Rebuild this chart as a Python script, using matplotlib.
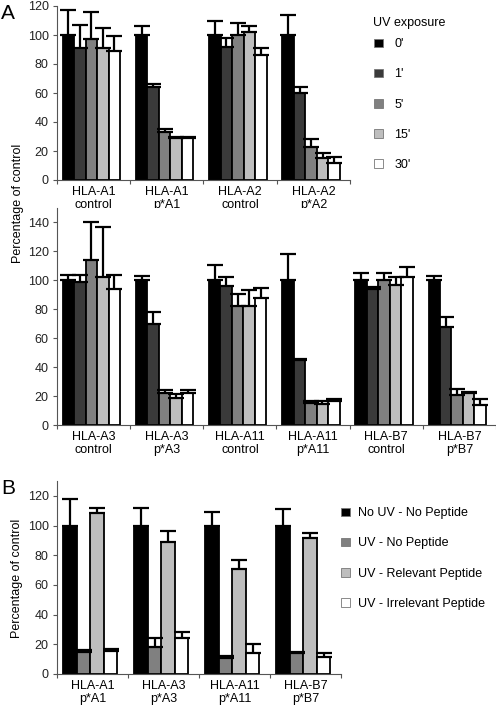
import matplotlib
matplotlib.use("Agg")
import matplotlib.pyplot as plt
import numpy as np
from matplotlib.patches import Patch

plt.rcParams['font.family'] = ['Liberation Sans', 'DejaVu Sans']
plt.rcParams['font.size'] = 9

# Panel A, top row
groups_top = ["HLA-A1\ncontrol", "HLA-A1\np*A1", "HLA-A2\ncontrol", "HLA-A2\np*A2"]
vals_top = [
    [100, 100, 100, 100],   # 0'
    [91, 64, 92, 60],       # 1'
    [97, 33, 100, 23],      # 5'
    [91, 29, 102, 15],      # 15'
    [89, 29, 86, 12],       # 30'
]
errs_top = [
    [17, 6, 10, 14],
    [16, 2, 6, 4],
    [19, 2.5, 8, 5.5],
    [14, 1, 4, 3.5],
    [10, 1, 5, 4],
]

# Panel A, second row
groups_mid = ["HLA-A3\ncontrol", "HLA-A3\np*A3", "HLA-A11\ncontrol",
              "HLA-A11\np*A11", "HLA-B7\ncontrol", "HLA-B7\np*B7"]
vals_mid = [
    [100, 100, 100, 100, 100, 100],
    [99, 70, 96, 45, 94, 68],
    [114, 22, 82, 15, 100, 21],
    [102, 19, 82, 14.5, 97, 22],
    [94, 22, 88, 16.5, 102, 14],
]
errs_mid = [
    [4, 3, 10.5, 18.5, 5, 3],
    [5, 8, 6.5, 0.5, 1.5, 6.5],
    [26, 2.5, 8.5, 1.5, 5, 4],
    [35, 2.5, 11, 2, 5, 0.5],
    [10, 2, 7, 1.5, 7, 4],
]
uv_labels = ["0'", "1'", "5'", "15'", "30'"]
uv_colors = ["#000000", "#3a3a3a", "#808080", "#bebebe", "#ffffff"]

# Panel B
groups_b = ["HLA-A1\np*A1", "HLA-A3\np*A3", "HLA-A11\np*A11", "HLA-B7\np*B7"]
vals_b = [
    [100, 100, 100, 100],   # No UV - No Peptide
    [15, 18, 10.5, 14.4],   # UV - No Peptide
    [108.5, 89, 71, 91.3],  # UV - Relevant Peptide
    [15.3, 24, 14, 11.2],   # UV - Irrelevant Peptide
]
errs_b = [
    [18, 12, 9, 11],
    [1, 6.5, 1.5, 0.5],
    [3.5, 7, 5.5, 3.5],
    [1.7, 4, 6, 3],
]
b_labels = ["No UV - No Peptide", "UV - No Peptide", "UV - Relevant Peptide",
            "UV - Irrelevant Peptide"]
b_colors = ["#000000", "#808080", "#bebebe", "#ffffff"]

W, H = 496, 706
fig = plt.figure(figsize=(W / 100, H / 100), dpi=100)


def px_axes(l, t, r, b):
    return fig.add_axes([l / W, 1 - b / H, (r - l) / W, (b - t) / H])


def draw_panel(ax, groups, vals, errs, colors, width, ymax, ystep):
    n = len(vals)
    x = np.arange(len(groups))
    offsets = (np.arange(n) - (n - 1) / 2) * width - 0.03
    for i in range(n):
        ax.bar(x + offsets[i], vals[i], width, color=colors[i],
               edgecolor="black", linewidth=1.3, zorder=2)
        ax.errorbar(x + offsets[i], vals[i], yerr=[np.zeros(len(groups)), errs[i]],
                    fmt="none", ecolor="black", elinewidth=1.6, capsize=5.5,
                    capthick=1.6, zorder=3)
    ax.set_xlim(-0.5, len(groups) - 0.5)
    ax.set_ylim(0, ymax)
    ax.set_yticks(np.arange(0, ymax + 0.1 - (ymax % ystep), ystep))
    ax.set_xticks(np.arange(len(groups) + 1) - 0.5)
    ax.set_xticklabels([])
    ax.set_xticks(x, minor=True)
    ax.set_xticklabels(groups, minor=True, fontsize=9, linespacing=1.2)
    ax.tick_params(axis="x", which="minor", length=0, pad=4)
    ax.tick_params(axis="x", which="major", length=3, width=0.8, direction="out",
                   color="#555555")
    ax.tick_params(axis="y", length=3, width=0.8, direction="out", color="#555555",
                   labelsize=9, pad=3, labelcolor="#222222")
    for s in ["top", "right"]:
        ax.spines[s].set_visible(False)
    for s in ["left", "bottom"]:
        ax.spines[s].set_color("#555555")
        ax.spines[s].set_linewidth(0.8)


ax1 = px_axes(57, 6, 350, 180)
draw_panel(ax1, groups_top, vals_top, errs_top, uv_colors, 0.157, 120, 20)

ax2 = px_axes(57, 208, 496, 425)
draw_panel(ax2, groups_mid, vals_mid, errs_mid, uv_colors, 0.157, 150, 20)

ax3 = px_axes(57, 481, 341, 674)
draw_panel(ax3, groups_b, vals_b, errs_b, b_colors, 0.19, 130, 20)

# Legends
fig.text(373 / W, 1 - 23 / H, "UV exposure", ha="left", va="center", fontsize=9)
h_uv = [Patch(facecolor=c, edgecolor="#777777", linewidth=0.6) for c in uv_colors]
fig.legend(h_uv, uv_labels, loc="upper left",
           bbox_to_anchor=(368 / W, 1 - 32 / H), frameon=False,
           fontsize=9, handlelength=0.7, handleheight=0.7,
           handletextpad=0.9, labelspacing=1.45, borderpad=0)

h_b = [Patch(facecolor=c, edgecolor="#777777", linewidth=0.6) for c in b_colors]
fig.legend(h_b, b_labels, loc="upper left", bbox_to_anchor=(335 / W, 1 - 501 / H),
           frameon=False, fontsize=9, handlelength=0.7, handleheight=0.7,
           handletextpad=0.6, labelspacing=1.45, borderpad=0)

# Axis labels and panel letters
fig.text(18 / W, 1 - 203 / H, "Percentage of control", rotation=90,
         ha="center", va="center", fontsize=9)
fig.text(17 / W, 1 - 578 / H, "Percentage of control", rotation=90,
         ha="center", va="center", fontsize=9)
fig.text(1 / W, 1 - 4 / H, "A", fontsize=15, ha="left", va="top")
fig.text(1 / W, 1 - 479 / H, "B", fontsize=15, ha="left", va="top")

fig.savefig("out.png", dpi=100)
